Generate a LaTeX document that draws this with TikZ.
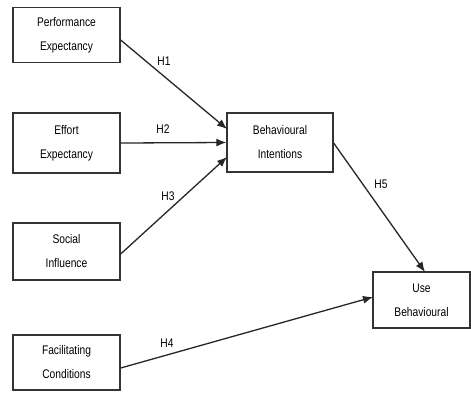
\documentclass[tikz,border=0pt]{standalone}
\usepackage{fontspec}
\setmainfont{Liberation Sans}
\usetikzlibrary{arrows.meta}
\begin{document}
\begin{tikzpicture}[x=1pt,y=-1pt,
  box/.style={draw=black!80,line width=1.3pt,fill=white,align=center,
    font=\fontsize{12.5}{24}\selectfont\addfontfeatures{FakeStretch=0.82},inner sep=0pt},
  arr/.style={draw=black!85,line width=1.3pt,-{Latex[length=10pt,width=8pt]}},
  lab/.style={font=\fontsize{12.5}{14}\selectfont\addfontfeatures{FakeStretch=0.82},inner sep=0pt}]
\useasboundingbox[fill=white] (0,0) rectangle (471,392);
\node[box,minimum width=107pt,minimum height=55pt] (pe) at (66.5,35) {Performance\\Expectancy};
\node[box,minimum width=107pt,minimum height=60pt] (ee) at (66.5,143) {Effort\\Expectancy};
\node[box,minimum width=107pt,minimum height=57pt] (si) at (66.5,251.5) {Social\\Influence};
\node[box,minimum width=107pt,minimum height=55pt] (fc) at (66.5,362.5) {Facilitating\\Conditions};
\node[box,minimum width=106pt,minimum height=59pt] (bi) at (280,142.5) {Behavioural\\Intentions};
\node[box,minimum width=97pt,minimum height=56pt] (ub) at (421.5,300) {Use\\Behavioural};
\coordinate (bi1) at (227,129);
\coordinate (bi3) at (227,157);
\coordinate (ub5) at (425,272);
\coordinate (ub4) at (373,297);
\draw[arr] (pe.east |- 0,40) -- (bi1);
\draw[arr] (ee.east) -- (bi.west);
\draw[arr] (si.east |- 0,254) -- (bi3);
\draw[arr] (fc.east |- 0,368) -- (ub4);
\draw[arr] (bi.east |- 0,143) -- (ub5);
\node[lab] (h1) at (164,61) {H1};
\node[lab] (h2) at (163,129) {H2};
\node[lab] (h3) at (168,196) {H3};
\node[lab] (h4) at (167,343) {H4};
\node[lab] (h5) at (381,184) {H5};
\end{tikzpicture}
\end{document}
